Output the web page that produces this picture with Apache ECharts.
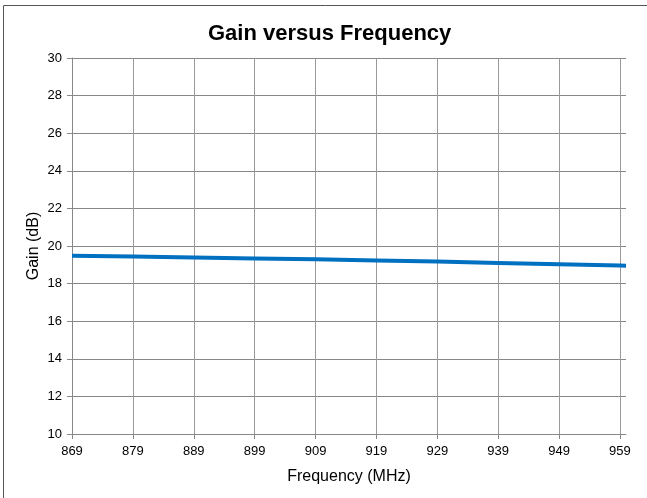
<!DOCTYPE html>
<html>
<head>
<meta charset="utf-8">
<script src="https://cdn.jsdelivr.net/npm/echarts@6.0.0/dist/echarts.min.js"></script>
<style>
  html, body { margin: 0; padding: 0; background: #fff; }
  #main { width: 647px; height: 498px; }
</style>
</head>
<body>
<div id="main"></div>
<script type="text/javascript">
    // frequency categories, one per MHz, labelled every 10
    var freqStart = 869;
    var freqEnd = 960;
    var freqs = [];
    for (var f = freqStart; f <= freqEnd; f++) freqs.push(String(f));

    // gain at these frequencies
    var sampleFreqs = [869, 879, 889, 899, 909, 919, 929, 939, 949, 959, 960];
    var sampleGain = [19.48, 19.44, 19.39, 19.34, 19.29, 19.23, 19.17, 19.10, 19.03, 18.96, 18.95];

    var yTicks = [10, 12, 14, 16, 18, 20, 22, 24, 26, 28, 30];

    var gainData = freqs.map(function (c) {
        var i = sampleFreqs.indexOf(Number(c));
        return i >= 0 ? sampleGain[i] : null;
    });

    var font = 'Liberation Sans, Arial, sans-serif';
    var myChart = echarts.init(document.getElementById('main'));
    myChart.setOption({
        animation: false,
        backgroundColor: '#fff',
        title: {
            text: 'Gain versus Frequency',
            left: 203,
            top: 18,
            textStyle: { fontFamily: font, fontSize: 22, fontWeight: 'bold', color: '#000' }
        },
        graphic: [{
            type: 'rect',
            shape: { x: 3.5, y: 5.5, width: 700, height: 600 },
            style: { fill: 'none', stroke: '#555', lineWidth: 1 },
            silent: true
        }],
        grid: { left: 72, right: 21, top: 58, bottom: 64 },
        xAxis: {
            type: 'category',
            data: freqs,
            boundaryGap: false,
            name: 'Frequency (MHz)',
            nameLocation: 'middle',
            nameGap: 35,
            nameMoveOverlap: false,
            nameTextStyle: { fontFamily: font, fontSize: 16, color: '#000' },
            axisLine: { lineStyle: { color: '#888', width: 1 } },
            axisTick: { interval: 9, length: 5, lineStyle: { color: '#888' } },
            axisLabel: { interval: 9, margin: 11, fontFamily: font, fontSize: 13, color: '#000' },
            splitLine: { show: true, interval: 9, lineStyle: { color: '#999', width: 1 } }
        },
        yAxis: {
            type: 'value',
            min: yTicks[0],
            max: yTicks[yTicks.length - 1],
            interval: 2,
            name: 'Gain (dB)',
            nameLocation: 'middle',
            nameGap: 30,
            nameMoveOverlap: false,
            nameTextStyle: { fontFamily: font, fontSize: 16, color: '#000' },
            axisLine: { show: true, lineStyle: { color: '#888', width: 1 } },
            axisTick: { show: true, length: 5, lineStyle: { color: '#888' } },
            axisLabel: { margin: 10, fontFamily: font, fontSize: 13, color: '#000' },
            splitLine: { show: true, lineStyle: { color: '#888', width: 1 } }
        },
        series: [{
            type: 'line',
            data: gainData,
            connectNulls: true,
            showSymbol: false,
            symbol: 'none',
            lineStyle: { color: '#0070C0', width: 4 }
        }]
    });
</script>
</body>
</html>
